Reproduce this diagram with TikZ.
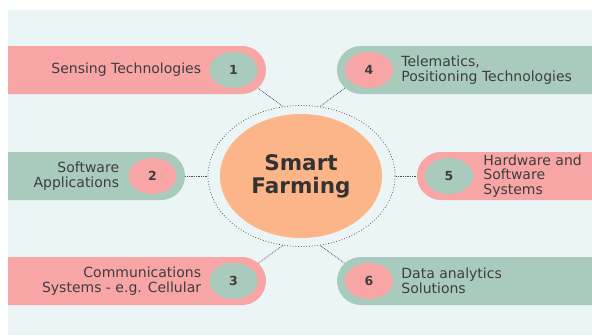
\documentclass[tikz,border=0pt]{standalone}
\usepackage{fontspec}
\setmainfont{DejaVu Sans}
\usetikzlibrary{positioning,shapes.geometric,shapes.misc}
\definecolor{bgc}{HTML}{EBF5F5}
\definecolor{pinkc}{HTML}{F7A5A5}
\definecolor{greenc}{HTML}{A8CBBE}
\definecolor{hubc}{HTML}{FBB588}
\definecolor{inkc}{HTML}{3E3E3E}
\pgfdeclarelayer{bg}
\pgfdeclarelayer{wires}
\pgfsetlayers{bg,wires,main}

\begin{document}
\begin{tikzpicture}[x=1pt, y=-1pt,
    pillE/.style={rounded rectangle, rounded rectangle west arc=none, minimum height=48pt, inner sep=0pt},
    pillW/.style={rounded rectangle, rounded rectangle east arc=none, minimum height=48pt, inner sep=0pt},
    num/.style={ellipse, minimum width=48pt, minimum height=36pt, inner sep=0pt, text=inkc, font=\fontsize{12.5}{12.5}\selectfont\bfseries},
    lbl/.style={inner sep=0pt, text=inkc, font=\fontsize{14}{14.5}\selectfont},
    wire/.style={densely dotted, line width=0.75pt, gray!60!black},
    node distance=8pt]

    \useasboundingbox (0,0) rectangle (592,335);
    \begin{pgfonlayer}{bg}
      \fill[bgc] (8,10) rectangle (592,335);
    \end{pgfonlayer}

    % centre
    \node[ellipse, draw=gray!60!black, dotted, line width=0.75pt, minimum width=187pt, minimum height=141pt] (ring) at (301.5,176) {};
    \node[ellipse, fill=hubc, minimum width=162pt, minimum height=124pt, align=center, text=black!80,
          font=\fontsize{21.5}{23}\selectfont\bfseries] (hub) at (301,176) {Smart\\Farming};

    % left side
    \node[pillE, fill=pinkc, minimum width=258pt] (p1) at (137,70) {};
    \node[pillE, fill=greenc, minimum width=177pt] (p2) at (96.5,176) {};
    \node[pillE, fill=pinkc, minimum width=258pt] (p3) at (137,281) {};
    \node[num, fill=greenc, left=8.5pt of p1.east, anchor=east] (c1) {1};
    \node[num, fill=pinkc, left=8.5pt of p2.east, anchor=east] (c2) {2};
    \node[num, fill=greenc, left=8.5pt of p3.east, anchor=east] (c3) {3};
    \node[lbl, left=of c1] (t1) {Sensing Technologies};
    \node[lbl, align=right, left=9pt of c2] (t2) {Software\\Applications};
    \node[lbl, align=right, left=of c3] (t3) {Communications\\Systems - e.g. Cellular};

    % right side
    \node[pillW, fill=greenc, minimum width=255pt] (p4) at (464.5,70) {};
    \node[pillW, fill=pinkc, minimum width=175pt] (p5) at (504.5,176) {};
    \node[pillW, fill=greenc, minimum width=255pt] (p6) at (464.5,281) {};
    \node[num, fill=pinkc, right=8pt of p4.west, anchor=west] (c4) {4};
    \node[num, fill=greenc, right=8pt of p5.west, anchor=west] (c5) {5};
    \node[num, fill=pinkc, right=8pt of p6.west, anchor=west] (c6) {6};
    \node[lbl, align=left, right=of c4] (t4) {Telematics,\\Positioning Technologies};
    \node[lbl, align=left, right=10pt of c5] (t5) {Hardware and\\Software\\Systems};
    \node[lbl, align=left, right=of c6] (t6) {Data analytics\\Solutions};

    % dotted links
    \begin{pgfonlayer}{wires}
      \draw[wire] (c1) -- (ring.105);
      \draw[wire] (c2) -- (ring);
      \draw[wire] (c3) -- (ring.255);
      \draw[wire] (c4) -- (ring.75);
      \draw[wire] (c5) -- (ring);
      \draw[wire] (c6) -- (ring.285);
    \end{pgfonlayer}

\end{tikzpicture}
\end{document}
